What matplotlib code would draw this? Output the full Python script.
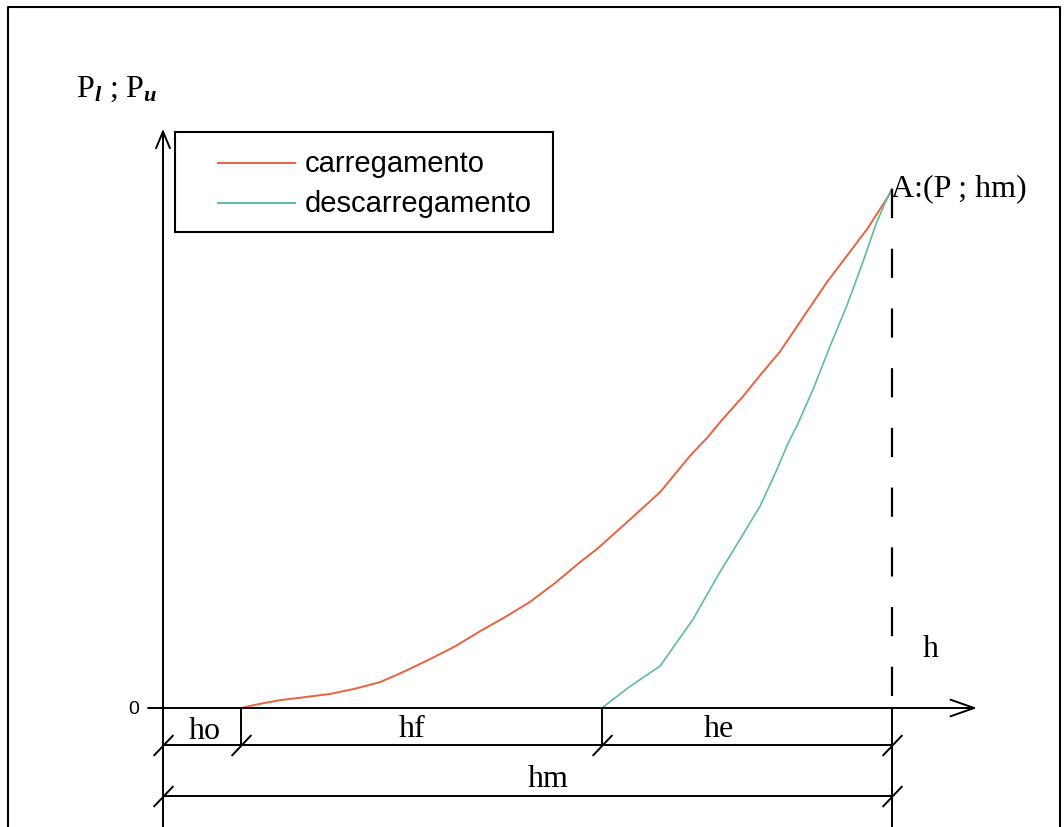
import matplotlib.pyplot as plt
from matplotlib.path import Path
from matplotlib.patches import Rectangle

plt.rcParams['font.family'] = 'Liberation Serif'
plt.rcParams['mathtext.fontset'] = 'custom'
plt.rcParams['mathtext.rm'] = 'Liberation Serif'
plt.rcParams['mathtext.it'] = 'Liberation Serif:italic:bold'
plt.rcParams['lines.scale_dashes'] = False

# valores normalizados: h / hm e P / Pmax
h_o = 0.107
h_f = 0.602
h_m = 1.0
P_max = 1.0

# curva de carregamento
h_carga = [0.107, 0.133, 0.160, 0.195, 0.229, 0.263, 0.298, 0.332, 0.366,
           0.401, 0.435, 0.469, 0.503, 0.538, 0.572, 0.595, 0.631, 0.682,
           0.723, 0.746, 0.768, 0.796, 0.819, 0.846, 0.883, 0.911, 0.938,
           0.966, 0.995, 1.0]
P_carga = [0.0, 0.008, 0.015, 0.021, 0.027, 0.037, 0.050, 0.071, 0.094,
           0.119, 0.148, 0.175, 0.204, 0.241, 0.281, 0.306, 0.351, 0.416,
           0.486, 0.520, 0.557, 0.601, 0.641, 0.686, 0.763, 0.821, 0.871,
           0.923, 0.986, 1.0]

# curva de descarregamento
h_descarga = [0.602, 0.641, 0.682, 0.727, 0.764, 0.792, 0.819, 0.842, 0.857,
              0.870, 0.892, 0.915, 0.938, 0.960, 0.979, 0.993, 1.0]
P_descarga = [0.0, 0.042, 0.081, 0.171, 0.262, 0.326, 0.389, 0.459, 0.509,
              0.545, 0.615, 0.697, 0.775, 0.859, 0.936, 0.981, 1.0]

legenda = ['carregamento', 'descarregamento']
cores = ['#e9623f', '#5cbf98']

W, H = 1064, 828
fig = plt.figure(figsize=(W / 100, H / 100), dpi=100)
ax = fig.add_axes([0, 0, 1, 1])

# escala: origem em (163, 709) px, hm = 729 px, Pmax = 519 px
sx, sy = 729.0, 519.0
ax.set_xlim(-163 / sx, (W - 163) / sx)
ax.set_ylim(-(H - 709) / sy, 709 / sy)
ax.axis('off')


def px(x, y):
    # pixel da figura -> coordenadas dos dados
    return (x - 163) / sx, (709 - y) / sy


ybot = ax.get_ylim()[0]

# moldura externa
fig.add_artist(plt.Line2D([8 / W, 8 / W, 1060 / W, 1060 / W],
                          [0, 1 - 8 / H, 1 - 8 / H, 0],
                          color='k', lw=1.5))

# curvas
ax.plot(h_carga, P_carga, color=cores[0], lw=1.4)
ax.plot(h_descarga, P_descarga, color=cores[1], lw=1.2)

# eixos com setas
seta = dict(color='k', lw=1.4, shrinkA=0, shrinkB=0)
ax.annotate('', xy=(0, px(0, 130)[1]), xytext=(0, ybot),
            arrowprops=dict(arrowstyle='->,head_length=1.2,head_width=0.5', **seta))
ax.annotate('', xy=(px(977, 0)[0], 0), xytext=(px(148, 0)[0], 0),
            arrowprops=dict(arrowstyle='->,head_length=1.7,head_width=0.6', **seta))

# linha vertical em hm
ax.plot([h_m, h_m], [P_max, 0], color='k', lw=1.6, ls=(0, (21, 22)))
ax.plot([h_m, h_m], [0, ybot], color='k', lw=1.4)

# cotas
d1 = px(0, 746)[1]
d2 = px(0, 797)[1]
for h in [h_o, h_f]:
    ax.plot([h, h], [0, d1], color='k', lw=1.4)
ax.plot([0, h_m], [d1, d1], color='k', lw=1.4)
ax.plot([0, h_m], [d2, d2], color='k', lw=1.4)

barra = Path([(-0.95, -1), (0.95, 1)], [Path.MOVETO, Path.LINETO])
ax.plot([0, h_o, h_f, h_m], [d1] * 4, ls='none', marker=barra, ms=15,
        mec='k', mew=1.4)
ax.plot([0, h_m], [d2] * 2, ls='none', marker=barra, ms=15,
        mec='k', mew=1.4)

# textos
tam = 23
ax.text(*px(205, 732), 'ho', fontsize=tam, ha='center', va='center')
ax.text(*px(412, 730), 'hf', fontsize=tam, ha='center', va='center')
ax.text(*px(719, 730), 'he', fontsize=tam, ha='center', va='center')
ax.text(*px(548, 780), 'hm', fontsize=tam, ha='center', va='center')
ax.text(*px(931, 650), 'h', fontsize=tam, ha='center', va='center')
ax.text(*px(891, 196), 'A:(P ; hm)', fontsize=tam, ha='left', va='baseline')
ax.text(*px(134, 710), '0', fontsize=14, family='Liberation Sans',
        ha='center', va='center')
ax.text(*px(76, 97), r'P$_{l}$ ; P$_{u}$', fontsize=23, ha='left',
        va='baseline')

# legenda
x0, y0 = px(175, 233)
x1, y1 = px(553, 133)
ax.add_patch(Rectangle((x0, y0), x1 - x0, y1 - y0, fill=False,
                       ec='k', lw=1.5))
for i, (nome, cor) in enumerate(zip(legenda, cores)):
    yy = px(0, 164 + 40 * i)[1]
    ax.plot([px(218, 0)[0], px(295, 0)[0]], [yy, yy], color=cor, lw=1.4)
    ax.text(px(305, 0)[0], yy, nome, fontsize=21, family='Liberation Sans',
            ha='left', va='center')

fig.savefig('out.png', dpi=100)
